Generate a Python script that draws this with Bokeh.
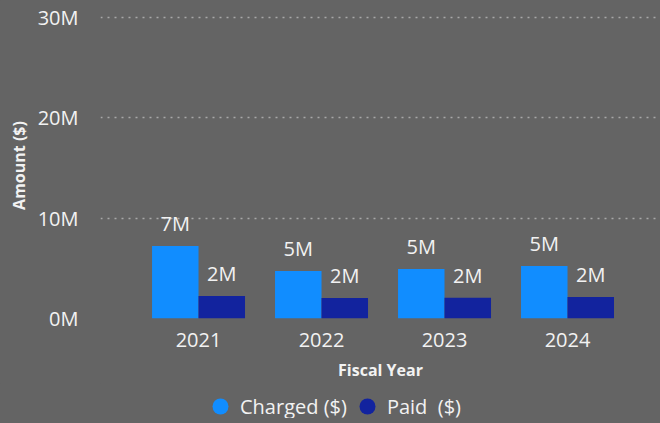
from bokeh.plotting import figure
from bokeh.layouts import column
from bokeh.models import ColumnDataSource, FixedTicker, Legend, LegendItem, Range1d
from bokeh.transform import dodge
from bokeh.core.properties import value
from bokeh.embed import file_html
from bokeh.resources import INLINE

# ---- data (values in millions of $) ----
years = ["2021", "2022", "2023", "2024"]
charged = [7.21, 4.73, 4.93, 5.22]
paid = [2.24, 2.04, 2.06, 2.14]
charged_labels = ["7M", "5M", "5M", "5M"]
paid_labels = ["2M", "2M", "2M", "2M"]
y_ticks = [0, 10, 20, 30]
y_tick_labels = ["0M", "10M", "20M", "30M"]
series_names = ["Charged ($)", "Paid  ($)"]

BG = "#646464"
C_CHARGED = "#118DFF"
C_PAID = "#12239E"
TXT = "#f2f2f2"
FONT = "Open Sans"

idx = list(range(len(years)))
src = ColumnDataSource(dict(idx=idx, charged=charged, paid=paid,
                            cl=charged_labels, pl=paid_labels))

p = figure(frame_width=560, frame_height=306, output_backend="svg", toolbar_location=None,
           x_range=Range1d(-0.797, 3.756), y_range=Range1d(0, 30.45),
           min_border_left=100, min_border_right=0, min_border_top=12,
           min_border_bottom=0)
p.background_fill_color = BG
p.border_fill_color = BG
p.outline_line_color = None

bw = 0.378
p.vbar(x=dodge("idx", -bw / 2), top="charged", width=bw, source=src,
       fill_color=C_CHARGED, line_color=None)
p.vbar(x=dodge("idx", bw / 2), top="paid", width=bw, source=src,
       fill_color=C_PAID, line_color=None)

p.text(x=dodge("idx", -bw / 2), y="charged", text="cl", source=src,
       text_align="center", text_baseline="bottom", y_offset=-9,
       text_color=TXT, text_font=value(FONT), text_font_size="20px")
p.text(x=dodge("idx", bw / 2), y="paid", text="pl", source=src,
       text_align="center", text_baseline="bottom", y_offset=-9,
       text_color=TXT, text_font=value(FONT), text_font_size="20px")

# y axis
p.yaxis.ticker = FixedTicker(ticks=y_ticks)
p.yaxis.major_label_overrides = {t: l for t, l in zip(y_ticks, y_tick_labels)}
p.yaxis.axis_line_color = None
p.yaxis.major_tick_line_color = None
p.yaxis.minor_tick_line_color = None
p.yaxis.major_label_standoff = 16
p.yaxis.major_label_text_color = TXT
p.yaxis.major_label_text_font = FONT
p.yaxis.major_label_text_font_size = "20px"
p.yaxis.axis_label = "Amount ($)"
p.yaxis.axis_label_text_color = TXT
p.yaxis.axis_label_text_font = FONT
p.yaxis.axis_label_text_font_style = "bold"
p.yaxis.axis_label_text_font_size = "16px"
p.yaxis.axis_label_standoff = 5

# x axis
p.xaxis.ticker = FixedTicker(ticks=idx)
p.xaxis.major_label_overrides = {i: y for i, y in zip(idx, years)}
p.xaxis.axis_line_color = None
p.xaxis.major_tick_line_color = None
p.xaxis.minor_tick_line_color = None
p.xaxis.major_tick_out = 0
p.xaxis.major_label_standoff = 14
p.xaxis.major_label_text_color = TXT
p.xaxis.major_label_text_font = FONT
p.xaxis.major_label_text_font_size = "20px"
p.xaxis.axis_label = "Fiscal Year"
p.xaxis.axis_label_text_color = TXT
p.xaxis.axis_label_text_font = FONT
p.xaxis.axis_label_text_font_style = "bold"
p.xaxis.axis_label_text_font_size = "16px"
p.xaxis.axis_label_standoff = 9

# grid
p.xgrid.visible = False
p.ygrid.ticker = FixedTicker(ticks=y_ticks)
p.ygrid.grid_line_color = "#a8a8a8"
p.ygrid.grid_line_dash = "2 5"
p.ygrid.grid_line_width = 1.5

# legend strip (separate small figure, circle markers)
lg = figure(width=660, height=35, output_backend="svg", toolbar_location=None,
            x_range=Range1d(0, 1), y_range=Range1d(0, 1),
            min_border=0, outline_line_color=None)
lg.background_fill_color = BG
lg.border_fill_color = BG
lg.axis.visible = False
lg.grid.visible = False
r1 = lg.scatter(x=[-10], y=[-10], marker="circle", fill_color=C_CHARGED, line_color=None)
r2 = lg.scatter(x=[-10], y=[-10], marker="circle", fill_color=C_PAID, line_color=None)
legend = Legend(items=[LegendItem(label=series_names[0], renderers=[r1]),
                       LegendItem(label=series_names[1], renderers=[r2])],
                orientation="horizontal", location=(100, -8),
                glyph_width=40, glyph_height=40, label_standoff=0, spacing=0,
                padding=0, margin=0, background_fill_alpha=0, border_line_alpha=0,
                label_text_color=TXT, label_text_font=FONT,
                label_text_font_size="20px")
lg.add_layout(legend)

layout = column(p, lg, spacing=0)
html = file_html(layout, INLINE)
html = html.replace("<head>", "<head><style>body{background:#646464;}</style>", 1)
open("out.html", "w").write(html)
